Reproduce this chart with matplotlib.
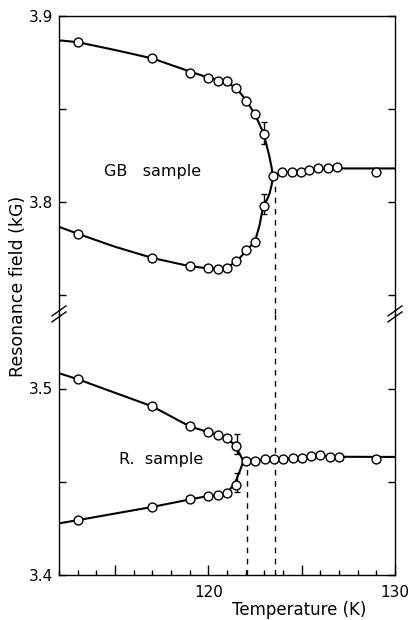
import matplotlib
matplotlib.use("Agg")
import matplotlib.pyplot as plt
from matplotlib.lines import Line2D
from matplotlib.ticker import MultipleLocator, FixedLocator

plt.rcParams['font.family'] = ['DejaVu Sans']

# ---------------- data ----------------
# GB sample
T_gb_branch = [113, 117, 119, 120, 120.5, 121, 121.5, 122, 122.5, 122.97]
H_gb_upper = [3.886, 3.877, 3.869, 3.8665, 3.865, 3.865, 3.861, 3.854, 3.847, 3.8366]
H_gb_lower = [3.783, 3.770, 3.7656, 3.7644, 3.764, 3.7644, 3.7684, 3.774, 3.7783, 3.798]
T_gb_high = [123.46, 123.96, 124.46, 124.94, 125.4, 125.9, 126.4, 126.9, 129.0]
H_gb_high = [3.814, 3.816, 3.816, 3.8163, 3.8174, 3.818, 3.818, 3.8185, 3.816]
gb_err_T = [122.97, 122.97]
gb_err_H = [3.837, 3.7987]
gb_err = [0.0058, 0.0054]
# guide curve for GB sample
gb_curve_up_T = [112.0, 113, 115, 117, 119, 120, 120.5, 121, 121.5, 122, 122.5, 122.95, 123.12, 123.26, 123.38, 123.46]
gb_curve_up_H = [3.8867, 3.8857, 3.8815, 3.877, 3.870, 3.8667, 3.8655, 3.8640, 3.8612, 3.8548, 3.8470, 3.8370, 3.8305, 3.8249, 3.8190, 3.8140]
gb_curve_lo_T = [112.0, 113, 115, 117, 119, 120, 120.5, 121, 121.5, 122, 122.5, 122.74, 122.95, 123.14, 123.28, 123.40, 123.46]
gb_curve_lo_H = [3.7867, 3.783, 3.776, 3.770, 3.7656, 3.7644, 3.7642, 3.7650, 3.7680, 3.7735, 3.7790, 3.7873, 3.7984, 3.8012, 3.8045, 3.8095, 3.8140]
gb_curve_hi_T = [123.46, 123.96, 124.5, 125.0, 125.5, 126.0, 127.0, 130.0]
gb_curve_hi_H = [3.8140, 3.8158, 3.8163, 3.8165, 3.8173, 3.8178, 3.8180, 3.8180]
gb_transition_T = 123.57
gb_transition_H = 3.8115

# R sample
T_r_branch = [113, 117, 119, 120, 120.5, 121, 121.48]
H_r_upper = [3.505, 3.4904, 3.4797, 3.4766, 3.4752, 3.4734, 3.4693]
H_r_lower = [3.4294, 3.4365, 3.4405, 3.4424, 3.443, 3.4437, 3.4485]
T_r_high = [122.0, 122.5, 123.02, 123.52, 124.02, 124.52, 125.0, 125.5, 126.0, 126.5, 127.0, 129.0]
H_r_high = [3.4613, 3.4613, 3.4622, 3.4622, 3.4622, 3.4629, 3.4626, 3.464, 3.4643, 3.4634, 3.4634, 3.462]
r_err_T = [121.55, 121.55]
r_err_H = [3.4703, 3.4496]
r_err = [0.0053, 0.005]
r_curve_up_T = [112.0, 113, 117, 119, 120, 120.5, 121, 121.45, 121.67, 121.88]
r_curve_up_H = [3.5082, 3.505, 3.4904, 3.4797, 3.4766, 3.4750, 3.4732, 3.4695, 3.4651, 3.4611]
r_curve_lo_T = [112.0, 113, 117, 119, 120, 120.5, 121, 121.45, 121.7, 121.88]
r_curve_lo_H = [3.4277, 3.4294, 3.4365, 3.4405, 3.4424, 3.443, 3.4437, 3.4499, 3.4561, 3.4611]
r_curve_hi_T = [121.88, 122.0, 122.5, 123.0, 124.0, 124.5, 125.5, 126.0, 127.0, 130.0]
r_curve_hi_H = [3.4611, 3.4613, 3.4613, 3.4620, 3.4622, 3.4627, 3.4637, 3.4640, 3.4634, 3.4633]
r_transition_T = 122.08
r_transition_H = 3.4606

x_ticklabels = {120: "120", 130: "130"}

# ---------------- figure ----------------
W, H = 412, 620
fig = plt.figure(figsize=(W / 100, H / 100), dpi=100)
left = 59 / W
width = 336 / W
ppk = 1865.0  # pixels per kG
h_bot = 0.14 * ppk / H
h_top = 0.16 * ppk / H
b_bot = 1 - 575 / H
ax2 = fig.add_axes([left, b_bot, width, h_bot])
ax1 = fig.add_axes([left, b_bot + h_bot, width, h_top])

lw_curve = 1.5
mk = dict(marker='o', markersize=6.4, markerfacecolor='white', markeredgecolor='black',
          markeredgewidth=1.0, linestyle='none', zorder=4)

for ax in (ax1, ax2):
    ax.set_xlim(112, 130)
    for s in ax.spines.values():
        s.set_linewidth(1.0)
    ax.tick_params(axis='both', direction='in', which='both', left=True, right=True,
                   labelsize=11, width=1.0)

ax1.set_ylim(3.74, 3.9)
ax2.set_ylim(3.4, 3.54)
ax1.spines['bottom'].set_visible(False)
ax2.spines['top'].set_visible(False)
ax1.tick_params(axis='x', which='both', bottom=False, top=False, labelbottom=False)
ax2.tick_params(axis='x', which='both', top=False)

ax1.set_yticks([3.75, 3.8, 3.85, 3.9])
ax1.set_yticklabels(["", "3.8", "", "3.9"])
ax2.set_yticks([3.4, 3.45, 3.5])
ax2.set_yticklabels(["3.4", "", "3.5"])
ax1.tick_params(axis='y', length=5, pad=4)
ax2.tick_params(axis='y', length=5, pad=4)

ax2.xaxis.set_major_locator(FixedLocator([115, 120, 125, 130]))
ax2.xaxis.set_minor_locator(MultipleLocator(1))
ax2.set_xticklabels([x_ticklabels.get(v, "") for v in [115, 120, 125, 130]])
ax2.tick_params(axis='x', which='major', length=7, pad=7)
ax2.tick_params(axis='x', which='minor', length=3.5)

# GB sample
ax1.plot(gb_curve_up_T, gb_curve_up_H, color='black', lw=lw_curve, zorder=2, solid_joinstyle='round')
ax1.plot(gb_curve_lo_T, gb_curve_lo_H, color='black', lw=lw_curve, zorder=2, solid_joinstyle='round')
ax1.plot(gb_curve_hi_T, gb_curve_hi_H, color='black', lw=lw_curve, zorder=2, solid_joinstyle='round')
ax1.errorbar(gb_err_T, gb_err_H, yerr=gb_err, fmt='none', ecolor='black', elinewidth=1.0,
             capsize=2.5, capthick=1.0, zorder=3)
ax1.plot(T_gb_branch, H_gb_upper, **mk)
ax1.plot(T_gb_branch, H_gb_lower, **mk)
ax1.plot(T_gb_high, H_gb_high, **mk)
ax1.vlines(gb_transition_T, 3.74, gb_transition_H, colors='black', linestyles=(0, (4, 4)), lw=1.0, zorder=1)
ax1.text(117.0, 3.8164, "GB   sample", fontsize=11.5, ha='center', va='center')

# R sample
ax2.plot(r_curve_up_T, r_curve_up_H, color='black', lw=lw_curve, zorder=2, solid_joinstyle='round')
ax2.plot(r_curve_lo_T, r_curve_lo_H, color='black', lw=lw_curve, zorder=2, solid_joinstyle='round')
ax2.plot(r_curve_hi_T, r_curve_hi_H, color='black', lw=lw_curve, zorder=2, solid_joinstyle='round')
ax2.errorbar(r_err_T, r_err_H, yerr=r_err, fmt='none', ecolor='black', elinewidth=1.0,
             capsize=2.5, capthick=1.0, zorder=3)
ax2.plot(T_r_branch, H_r_upper, **mk)
ax2.plot(T_r_branch, H_r_lower, **mk)
ax2.plot(T_r_high, H_r_high, **mk)
ax2.vlines(gb_transition_T, 3.4, 3.54, colors='black', linestyles=(0, (4, 4)), lw=1.0, zorder=1)
ax2.vlines(r_transition_T, 3.4, r_transition_H, colors='black', linestyles=(0, (4, 4)), lw=1.0, zorder=1)
ax2.text(117.45, 3.4617, "R.  sample", fontsize=11.5, ha='center', va='center')

# break marks on both vertical spines
yb = b_bot + h_bot
for xs in (left, left + width):
    for dy in (-3.0, 3.0):
        fig.add_artist(Line2D([xs - 7 / W, xs + 7 / W],
                              [yb + (dy - 5) / H, yb + (dy + 5) / H],
                              transform=fig.transFigure, color='black', lw=1.0))

fig.text(18 / W, 1 - 286 / H, "Resonance field (kG)", rotation=90, fontsize=12.5,
         ha='center', va='center')
fig.text(299 / W, 1 - 610 / H, "Temperature (K)", fontsize=12, ha='center', va='center')

fig.savefig("out.png", dpi=100)
